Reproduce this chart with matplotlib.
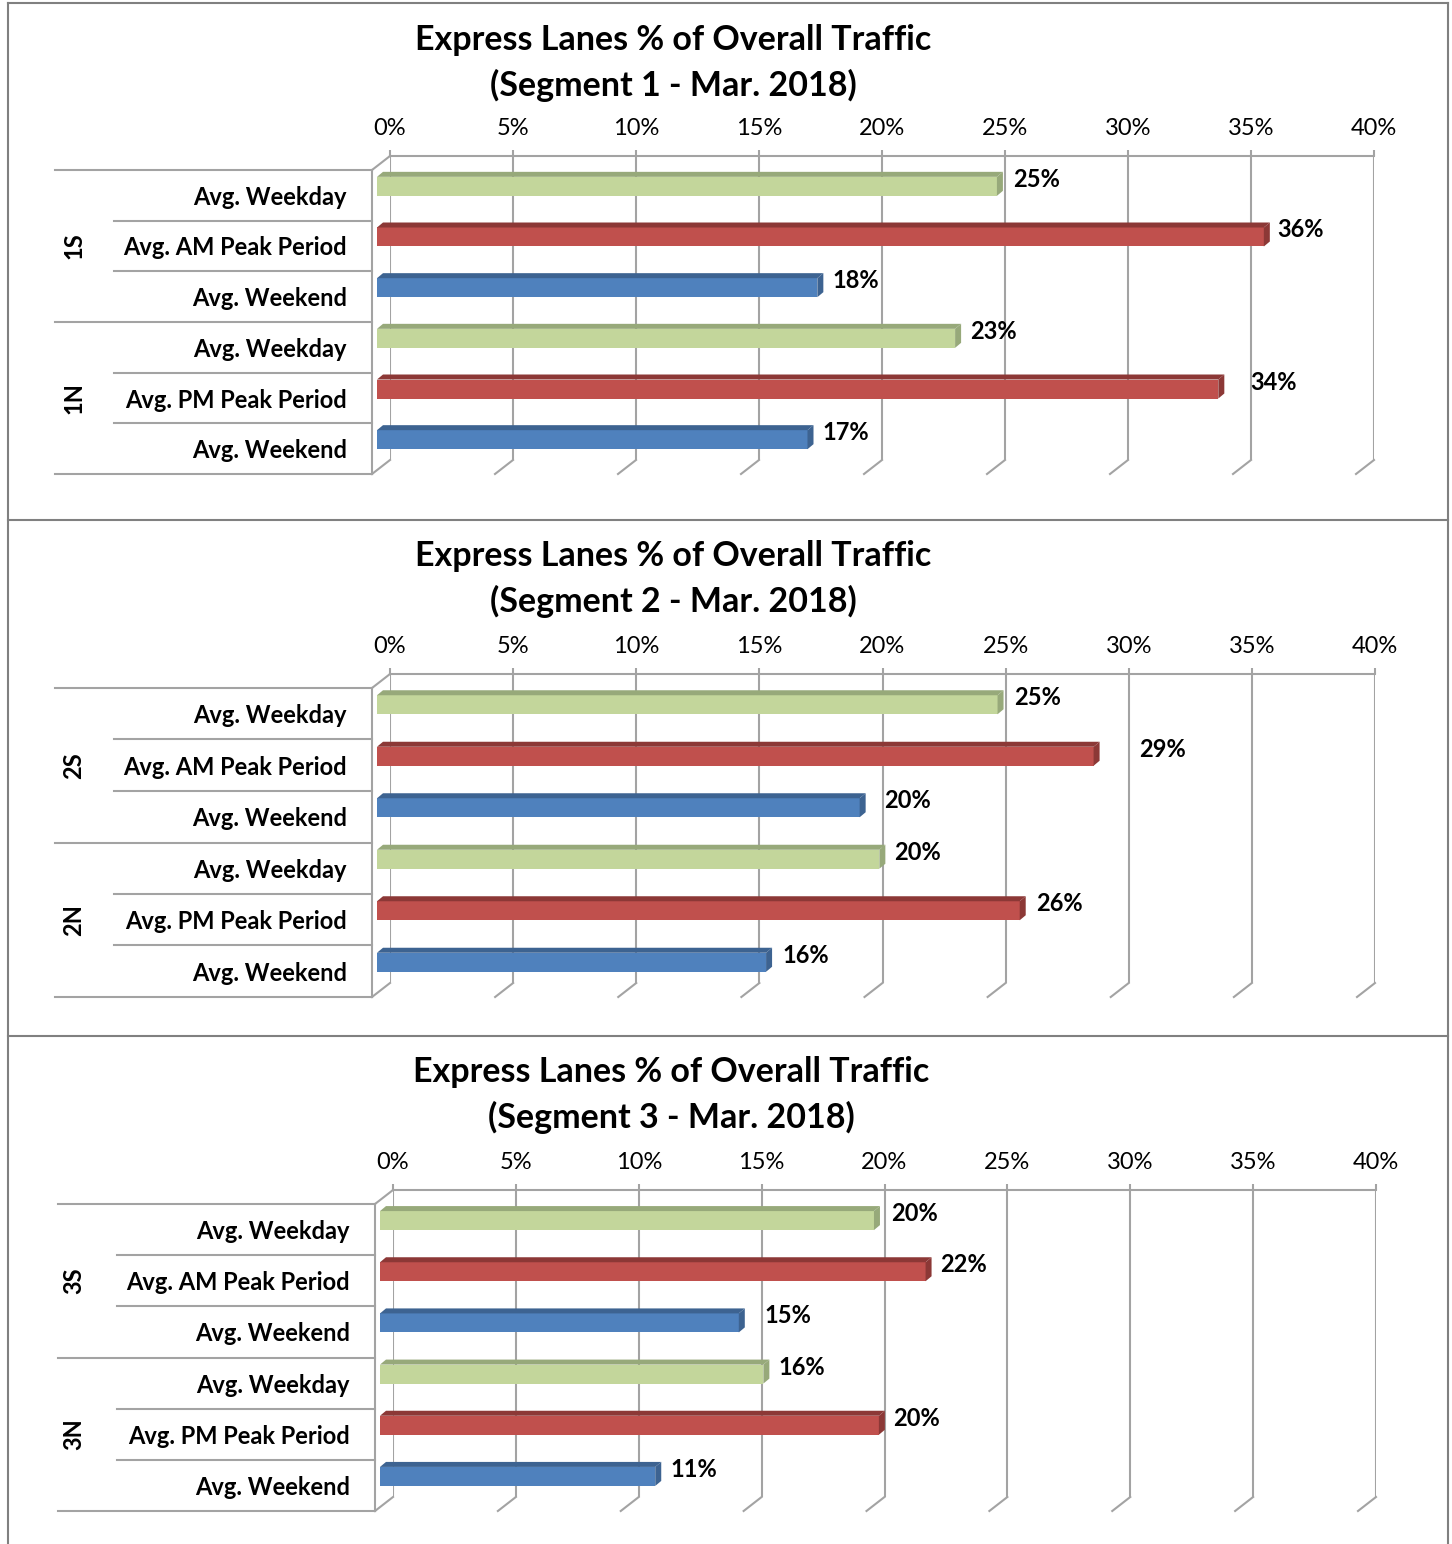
import matplotlib
matplotlib.use("Agg")
import matplotlib.pyplot as plt
from matplotlib.lines import Line2D
from matplotlib.transforms import offset_copy

W = 1452
H = 1544

segment_titles = [
    "Express Lanes % of Overall Traffic\n(Segment 1 - Mar. 2018)",
    "Express Lanes % of Overall Traffic\n(Segment 2 - Mar. 2018)",
    "Express Lanes % of Overall Traffic\n(Segment 3 - Mar. 2018)",
]
period_labels = ["Avg. Weekday", "Avg. AM Peak Period", "Avg. Weekend",
                 "Avg. Weekday", "Avg. PM Peak Period", "Avg. Weekend"]
direction_labels = [["1S", "1N"], ["2S", "2N"], ["3S", "3N"]]
x_ticks = [0, 5, 10, 15, 20, 25, 30, 35, 40]

# bar lengths, labels as printed
segment1_values = [25.2, 36.05, 17.9, 23.5, 34.2, 17.5]
segment2_values = [25.2, 29.1, 19.6, 20.4, 26.1, 15.8]
segment3_values = [20.1, 22.2, 14.6, 15.6, 20.3, 11.2]
segment1_labels = ["25%", "36%", "18%", "23%", "34%", "17%"]
segment2_labels = ["25%", "29%", "20%", "20%", "26%", "16%"]
segment3_labels = ["20%", "22%", "15%", "16%", "20%", "11%"]

# layout, in pixels: wall left, wall right, wall top, wall bottom, title centre, title top
panels = [
    (390, 1374, 156, 460, 673, 40),
    (390, 1375, 674, 983, 673, 556),
    (393, 1376, 1190, 1497, 671, 1072),
]
label_gaps = [[10, 7, 9, 9, 26, 9], [11, 40, 18, 9, 10, 10], [11, 9, 20, 9, 8, 9]]

GRID = "#a3a3a3"
FACE = ["#c3d69b", "#c0504d", "#4f81bd"]
DARK = ["#97a97a", "#8c3836", "#3d6391"]
FLOOR_DX = 18
FLOOR_DY = 14
BAR_LEFT = 13
BAR_H = 19
SIDE = 6
TOP = 5

plt.rcParams["font.family"] = ["Lato", "DejaVu Sans"]
fig = plt.figure(figsize=(W / 100, H / 100), dpi=100)


def fig_line(xs, ys, color="#808080", lw=1.5):
    fig.add_artist(Line2D([x / W for x in xs], [1 - y / H for y in ys],
                          transform=fig.transFigure, color=color, lw=lw))


def draw_panel(panel, title, directions, values, labels, gaps):
    x0, x40, top, bottom, title_x, title_y = panel
    ax = fig.add_axes([x0 / W, 1 - bottom / H, (x40 - x0) / W, (bottom - top) / H])
    ax.patch.set_alpha(0)
    ax.set_xlim(0, 40)
    ax.set_ylim(6, 0)
    px_x = (x40 - x0) / 40
    px_y = (bottom - top) / 6

    for s in ["left", "right", "bottom"]:
        ax.spines[s].set_visible(False)
    ax.spines["top"].set_color(GRID)
    ax.spines["top"].set_linewidth(1.5)
    ax.xaxis.tick_top()
    ax.set_xticks(x_ticks)
    ax.set_xticklabels([f"{t}%" for t in x_ticks], fontsize=17)
    ax.tick_params(axis="x", color=GRID, length=4, width=1.5, pad=8, colors="black")
    ax.tick_params(axis="x", color=GRID)
    ax.set_yticks([])

    # walls and floor
    ax.vlines(x_ticks, 0, 6, color=GRID, lw=1.5, zorder=1)
    fdx = FLOOR_DX / px_x
    fdy = FLOOR_DY / px_y
    for t in x_ticks:
        ax.plot([t, t - fdx], [6, 6 + fdy], color=GRID, lw=1.5, clip_on=False, zorder=1)
    ax.plot([-fdx, 0], [fdy, 0], color=GRID, lw=1.5, clip_on=False, zorder=1)
    ax.plot([-fdx, -fdx], [fdy, 6 + fdy], color=GRID, lw=1.5, clip_on=False, zorder=1)

    # row and group rules on the front plane
    front_x = x0 - FLOOR_DX
    for i in range(7):
        y = top + FLOOR_DY + i * px_y
        start = front_x - 317 if i % 3 == 0 else front_x - 258
        fig_line([start, front_x], [y, y], color=GRID)

    # bars sit on the front plane, a little above the row centre
    tr = offset_copy(ax.transData, fig=fig, x=-BAR_LEFT, y=9.0, units="dots")
    h = BAR_H / px_y
    side = SIDE / px_x
    depth = TOP / px_y
    for i, v in enumerate(values):
        y = i + 0.5 + FLOOR_DY / px_y
        c = i % 3
        bar = ax.barh(y, v, height=h, color=FACE[c], zorder=3, transform=tr, clip_on=False)
        for b in bar:
            b.set_transform(tr)
        top_x = [0, v, v + side, side]
        top_y = [y - h / 2, y - h / 2, y - h / 2 - depth, y - h / 2 - depth]
        ax.fill(top_x, top_y, color=DARK[c], lw=0, zorder=3, transform=tr, clip_on=False)
        side_x = [v, v + side, v + side, v]
        side_y = [y - h / 2, y - h / 2 - depth, y + h / 2 - depth, y + h / 2]
        ax.fill(side_x, side_y, color=DARK[c], lw=0, zorder=3, transform=tr, clip_on=False)
        ax.annotate(labels[i], (v, y), xycoords=tr, xytext=(SIDE + gaps[i], 7),
                    textcoords="offset pixels", fontsize=17, fontweight="bold",
                    ha="left", va="center", zorder=4)
        ax.annotate(period_labels[i], (0, y), xycoords="data",
                    xytext=(-43, -2), textcoords="offset pixels", fontsize=17,
                    fontweight="bold", ha="right", va="center", zorder=4)

    for g, name in enumerate(directions):
        ax.annotate(name, (0, 1.5 + 3 * g + FLOOR_DY / px_y), xycoords="data",
                    xytext=(74 - x0, 0), textcoords="offset pixels", fontsize=17,
                    fontweight="bold", rotation=90, ha="center", va="center")

    lines = title.split("\n")
    for k, line in enumerate(lines):
        fig.text(title_x / W, 1 - (title_y + k * 45.5) / H, line, fontsize=24.5,
                 fontweight="bold", ha="center", va="center")


all_values = [segment1_values, segment2_values, segment3_values]
all_labels = [segment1_labels, segment2_labels, segment3_labels]
for n in range(3):
    draw_panel(panels[n], segment_titles[n], direction_labels[n], all_values[n],
               all_labels[n], label_gaps[n])

# panel frames
fig_line([8, 8], [3, 1544])
fig_line([1448, 1448], [3, 1544])
for y in [3, 520, 1036]:
    fig_line([8, 1448], [y, y])

fig.savefig("out.png", dpi=100)
